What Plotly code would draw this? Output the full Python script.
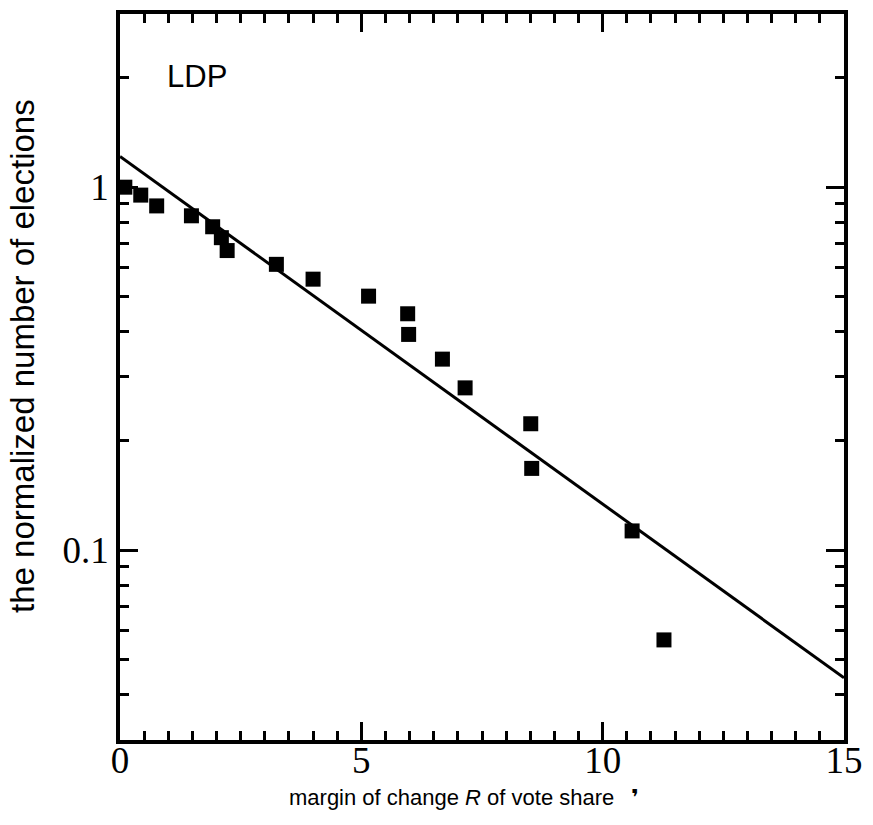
import plotly.graph_objects as go

# Data
margin_R = [0.10, 0.43, 0.76, 1.48, 1.92, 2.10, 2.22, 3.24, 4.00, 5.15, 5.96, 5.98,
            6.68, 7.15, 8.51, 8.53, 10.61, 11.27]
norm_elections = [1.00, 0.951, 0.888, 0.834, 0.778, 0.726, 0.669, 0.613, 0.558, 0.501,
                  0.448, 0.393, 0.336, 0.280, 0.223, 0.168, 0.113, 0.0566]

fit_x = [0, 15]
fit_y = [1.215, 0.0445]

x_tickvals = [0, 5, 10, 15]
x_ticktext = ["0", "5", "10", "15"]
y_tickvals = [0.1, 1]
y_ticktext = ["0.1", "1"]
y_minorvals = [0.03, 0.04, 0.05, 0.06, 0.07, 0.08, 0.09,
               0.2, 0.3, 0.4, 0.5, 0.6, 0.7, 0.8, 0.9, 2, 3]

fig = go.Figure()
fig.add_trace(go.Scatter(x=fit_x, y=fit_y, mode="lines",
                         line=dict(color="black", width=3), showlegend=False,
                         hoverinfo="skip"))
fig.add_trace(go.Scatter(x=margin_R, y=norm_elections, mode="markers",
                         marker=dict(symbol="square", size=15, color="black"),
                         showlegend=False))

serif = "Liberation Serif, Times New Roman, serif"
sans = "Liberation Sans, Arial, sans-serif"

fig.update_layout(
    width=873, height=825,
    margin=dict(l=120, r=20, t=10, b=85),
    paper_bgcolor="white", plot_bgcolor="white",
    xaxis=dict(
        range=[0, 15], showgrid=False, zeroline=False,
        showline=True, linecolor="black", linewidth=3.5, mirror="ticks",
        tickmode="array", tickvals=x_tickvals, ticktext=x_ticktext,
        ticks="inside", ticklen=18, tickwidth=3, tickcolor="black",
        minor=dict(dtick=0.5, tick0=0, ticks="inside", ticklen=9, tickwidth=3,
                   tickcolor="black", showgrid=False),
        tickfont=dict(family=serif, size=37, color="black"),
        ticklabelstandoff=-15,
    ),
    yaxis=dict(
        type="log", range=[-1.5229, 0.4771], showgrid=False, zeroline=False,
        showline=True, linecolor="black", linewidth=3.5, mirror="ticks",
        tickmode="array", tickvals=y_tickvals, ticktext=y_ticktext,
        ticks="inside", ticklen=18, tickwidth=3, tickcolor="black",
        minor=dict(tickmode="array", tickvals=y_minorvals, ticks="inside", ticklen=9,
                   tickwidth=3, tickcolor="black", showgrid=False),
        tickfont=dict(family=serif, size=37, color="black"),
        ticklabelstandoff=0,
    ),
    annotations=[
        dict(text="the normalized number of elections", xref="paper", yref="paper",
             x=-0.134, y=0.529, xanchor="center", yanchor="middle", textangle=-90,
             showarrow=False, font=dict(family=sans, size=33, color="black")),
        dict(text="margin of change <i>R</i> of vote share", xref="paper", yref="paper",
             x=0.458, y=-0.0795, xanchor="center", yanchor="middle",
             showarrow=False, font=dict(family=sans, size=22, color="black")),
        dict(text="LDP", xref="paper", yref="paper",
             x=0.107, y=0.914, xanchor="center", yanchor="middle",
             showarrow=False, font=dict(family=sans, size=31, color="black")),
        dict(text="<b>❜</b>", xref="paper", yref="paper",
             x=0.711, y=-0.0795, xanchor="center", yanchor="middle",
             showarrow=False, font=dict(family="DejaVu Sans", size=22, color="black")),
    ],
)

fig.write_html("out.html", config={"displayModeBar": False},
               post_script="document.body.style.margin='0';")
